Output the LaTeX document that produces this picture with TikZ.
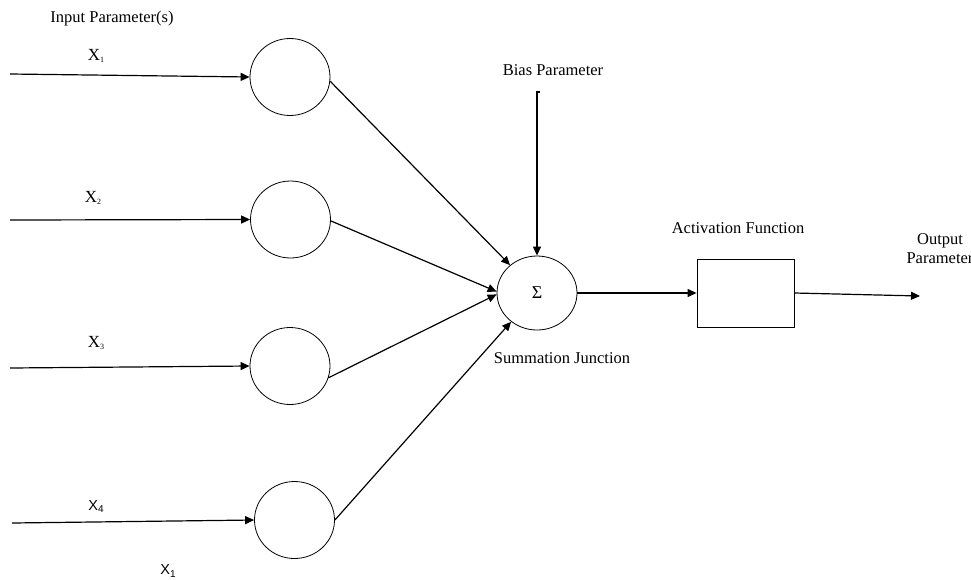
\documentclass[tikz,border=0pt]{standalone}
\usepackage{fontspec}
\setmainfont{Liberation Serif}
\newfontfamily\arialfont{Liberation Sans}
\usetikzlibrary{shapes.geometric,arrows.meta}

\tikzset{
  neuron/.style={draw, line width=0.8pt, ellipse, inner sep=0pt,
                 minimum width=80pt, minimum height=77pt},
  actbox/.style={draw, line width=0.8pt, rectangle, inner sep=0pt,
                 minimum width=97pt, minimum height=68pt},
  link/.style={line width=1.2pt, -{Triangle[length=9pt,width=8pt]}},
  lbl/.style={inner sep=0pt, font=\fontsize{16.5}{19}\selectfont},
  xlbl/.style={inner sep=0pt, font=\fontsize{17}{19}\selectfont},
  xsans/.style={inner sep=0pt, font=\arialfont\fontsize{14.5}{17}\selectfont}
}
\newcommand{\subs}[1]{\raisebox{-2pt}{\fontsize{8}{8}\selectfont #1}}
\newcommand{\subsans}[1]{\raisebox{-2pt}{\fontsize{10}{10}\selectfont #1}}

\begin{document}
\begin{tikzpicture}[x=1pt,y=-1pt]
\useasboundingbox (0,0) rectangle (971,579);

% input neurons
\node[neuron] (c1) at (290,77) {};
\node[neuron] (c2) at (290.5,219.5) {};
\node[neuron] (c3) at (290,366) {};
\node[neuron] (c4) at (294.5,520) {};

% summation junction and activation box
\node[neuron, minimum height=74pt] (sum) at (537,293)
  {\fontsize{18}{20}\selectfont Σ};
\node[actbox] (act) at (745.5,293) {};

% free ends of the connectors
\coordinate (in1) at (10,74);
\coordinate (in2) at (10,220);
\coordinate (in3) at (10,368);
\coordinate (in4) at (12,523);
\coordinate (bias) at (537,92);
\coordinate (biastick) at (540,92);
\coordinate (out) at (920,296);

% inputs into the neurons
\draw[link] (in1) -- (c1.west);
\draw[link] (in2) -- (c2.west);
\draw[link] (in3) -- (c3.west);
\draw[link] (in4) -- (c4.west);

% neurons into the summation junction
\draw[link] (c1.-6) -- (sum.134);
\draw[link] (c2.-2) -- (sum.178);
\draw[link] (c3.-17) -- (sum.182);
\draw[link] (c4.east) -- (sum.228);

% bias, activation and output
\draw[link] (biastick) -- (bias) -- (sum.north);
\draw[link] (sum.east) -- (act.west);
\draw[link] (act.east) -- (out);

% labels
\node[lbl] (tin) at (112,19) {Input Parameter(s)};
\node[xlbl] (x1) at (96,56) {X\subs{1}};
\node[xlbl] (x2) at (93,198) {X\subs{2}};
\node[xlbl] (x3) at (96,343) {X\subs{3}};
\node[xsans] (x4) at (96,507) {X\subsans{4}};
\node[xsans] (x1b) at (168,571) {X\subsans{1}};
\node[lbl] (tbias) at (553,70) {Bias Parameter};
\node[lbl] (tsum) at (562,358) {Summation Junction};
\node[lbl] (tact) at (738,228) {Activation Function};
\node[lbl, align=center, font=\fontsize{16.5}{19}\selectfont] (tout) at (940,249)
  {Output\\Parameter};
\end{tikzpicture}
\end{document}
